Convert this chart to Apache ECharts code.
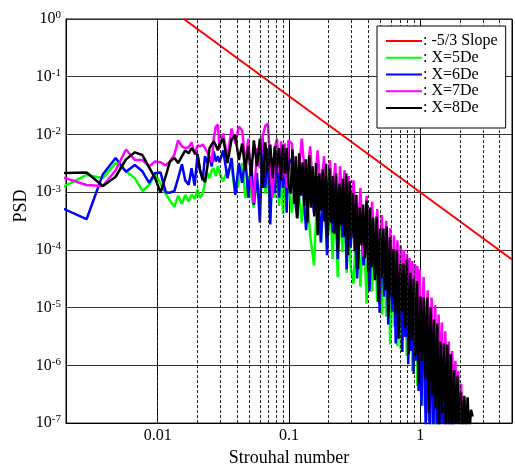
<!DOCTYPE html>
<html>
<head>
<meta charset="utf-8">
<script src="https://cdn.jsdelivr.net/npm/echarts@6/dist/echarts.min.js"></script>
<style>
  html, body { margin: 0; padding: 0; background: #fff; }
  #chart { width: 515px; height: 472px; }
</style>
</head>
<body>
<div id="chart"></div>
<script>
// Strouhal-number axis (shared by the spectra)
const freq = [
  0.0019, 0.00287, 0.00382, 0.00478, 0.00573, 0.00669, 0.00764, 0.0086, 0.00955, 0.0105,
  0.0115, 0.0124, 0.0134, 0.0143, 0.0153, 0.0162, 0.0172, 0.0181, 0.0191, 0.0201,
  0.021, 0.022, 0.0229, 0.0239, 0.0248, 0.0258, 0.0267, 0.0277, 0.0287, 0.0296,
  0.0315, 0.034, 0.0365, 0.039, 0.0415, 0.044, 0.0465, 0.049, 0.0515, 0.054,
  0.057, 0.06, 0.063, 0.066, 0.069, 0.072, 0.075, 0.078, 0.081, 0.084,
  0.087, 0.09, 0.093, 0.096, 0.099,
  0.105, 0.115, 0.125, 0.135, 0.145, 0.155, 0.165, 0.175, 0.185, 0.195,
  0.205, 0.215, 0.225, 0.235, 0.245, 0.255, 0.265, 0.275, 0.285, 0.295,
  0.31, 0.33, 0.35, 0.37, 0.39, 0.41, 0.43, 0.45, 0.47, 0.49,
  0.51, 0.53, 0.55, 0.57, 0.59, 0.61, 0.63, 0.65, 0.67, 0.69,
  0.71, 0.73, 0.75, 0.77, 0.79, 0.81, 0.83, 0.85, 0.87, 0.89,
  0.91, 0.93, 0.95, 0.97, 0.99,
  1.02, 1.06, 1.1, 1.14, 1.18, 1.22, 1.26, 1.3, 1.34, 1.38,
  1.42, 1.46, 1.5, 1.55, 1.6, 1.65, 1.7, 1.75, 1.8, 1.85,
  1.9, 1.95, 2.0, 2.05, 2.1, 2.15, 2.2, 2.25, 2.3, 2.35,
  2.4, 2.45, 2.5
];

// PSD at X = 5De
const psdX5 = [
  1.24e-3, 2e-3, 1.75e-3, 3.2e-3, 2.3e-3, 1.75e-3, 1.05e-3, 1.33e-3, 2.05e-3, 1.4e-3,
  9.4e-4, 7.1e-4, 5.6e-4, 8.7e-4, 6.3e-4, 9e-4, 6.9e-4, 9e-4, 7.6e-4, 1.1e-3,
  8e-4, 9.4e-4, 1.45e-3, 2.15e-3, 1.75e-3, 2.4e-3, 2.6e-3, 1.9e-3, 2.8e-3, 2.15e-3,
  1.55e-3, 2.4e-3, 2.6e-3, 9.8e-4, 1.45e-3, 3.2e-3, 8e-4, 1.9e-3, 9e-4, 5.4e-4,
  1.75e-3, 6.6e-4, 3.2e-3, 9.4e-4, 2.15e-3, 4.4e-4, 2.6e-3, 8e-4, 2.8e-3, 5.8e-4,
  2.15e-3, 4.2e-4, 1.9e-3, 6.6e-4, 2.4e-3,
  4.4e-4, 1.9e-3, 3e-4, 1.6e-3, 1.8e-4, 5.4e-5, 1.28e-3, 1.35e-4, 1.18e-3, 1.03e-4,
  9.8e-4, 6.9e-5, 8.7e-4, 3.4e-5, 7.4e-4, 9.1e-5, 6.6e-4, 4e-5, 5.8e-4, 5e-5,
  2.6e-5, 4.4e-4, 2.3e-5, 3.6e-4, 1.17e-5, 2.9e-4, 1.9e-5, 2.3e-4, 1.27e-5, 1.8e-4,
  7.6e-6, 1.35e-4, 7e-6, 1.03e-4, 2.3e-6, 8.1e-5, 4.7e-6, 6.3e-5, 2.15e-6, 5e-5,
  1.9e-6, 4e-5, 3.1e-6, 3.2e-5, 1.45e-6, 2.5e-5, 2.15e-6, 2e-5, 8e-7, 1.55e-5,
  1.45e-6, 1.2e-5, 4.4e-7, 9.6e-6, 6.6e-7,
  7.6e-6, 2e-7, 5.8e-6, 1.1e-7, 4.4e-6, 6e-8, 3.1e-6, 6e-8, 2.15e-6, 6e-8
];

// PSD at X = 6De
const psdX6 = [
  5.2e-4, 3.4e-4, 2.05e-3, 3.9e-3, 2.25e-3, 2.95e-3, 2.3e-3, 1.45e-3, 2.15e-3, 2.2e-3,
  1e-3, 9.8e-4, 1.05e-3, 1.75e-3, 3.06e-3, 1.6e-3, 1.35e-3, 2.6e-3, 1.3e-3, 4.5e-3,
  2.4e-3, 1.6e-3, 4.2e-3, 3.2e-3, 3.9e-3, 2.8e-3, 5.1e-3, 3.4e-3, 4.2e-3, 3.3e-3,
  5.3e-3, 1.75e-3, 3.9e-3, 9e-4, 3.2e-3, 1.45e-3, 3.9e-3, 8e-4, 3.6e-3, 6.1e-4,
  2.15e-3, 3e-4, 9.2e-3, 1.18e-3, 5.8e-3, 2.75e-4, 3.9e-3, 9.7e-4, 5.3e-3, 8e-4,
  4.2e-3, 1.18e-3, 4.7e-3, 4.4e-4, 3.9e-3,
  3.2e-3, 3.6e-4, 2.6e-3, 2.2e-4, 2.15e-3, 4.4e-4, 1.9e-3, 1.35e-4, 1.75e-3, 8.1e-5,
  1.6e-3, 2e-4, 1.45e-3, 6.9e-5, 1.28e-3, 1.65e-4, 1.18e-3, 4.6e-5, 1.05e-3, 1.1e-4,
  8e-4, 3.2e-5, 5.4e-4, 5.4e-5, 4.4e-4, 1.9e-5, 3.6e-4, 3.4e-5, 2.9e-4, 8.2e-6,
  2.3e-4, 1.55e-5, 1.65e-4, 5.1e-6, 1.2e-4, 8.5e-6, 9.1e-5, 2.4e-6, 7.5e-5, 4.7e-6,
  5.9e-5, 1.7e-6, 4.6e-5, 3.1e-6, 3.7e-5, 1.05e-6, 2.9e-5, 1.77e-6, 2.3e-5, 7.1e-7,
  1.8e-5, 1.2e-6, 1.4e-5, 3.6e-7, 1.1e-5,
  2e-7, 9.6e-6, 9e-8, 7e-6, 6e-8, 5.1e-6, 7.5e-8, 3.4e-6, 6e-8, 2.3e-6,
  6.5e-8, 1.7e-6, 6e-8, 1.2e-6, 6e-8, 8e-7, 6e-8, 4.4e-7, 6e-8
];

// PSD at X = 7De
const psdX7 = [
  1.8e-3, 1.33e-3, 1.28e-3, 2.4e-3, 5.5e-3, 3.6e-3, 3.6e-3, 2.8e-3, 3.4e-3, 3.3e-3,
  2.9e-3, 3.4e-3, 4.5e-3, 7.9e-3, 6.2e-3, 5.8e-3, 6e-3, 7.3e-3, 4.5e-3, 6.5e-3,
  6.2e-3, 6.7e-3, 5.8e-3, 4.9e-3, 4.2e-3, 3.3e-3, 8.5e-3, 1.37e-2, 1.48e-2, 5.8e-3,
  1.04e-2, 3.9e-3, 1.27e-2, 7e-3, 1.37e-2, 1.17e-2, 3.2e-3, 8.5e-3, 1.4e-3, 6.6e-4,
  5.8e-3, 2.6e-3, 9.2e-3, 1.42e-2, 1.54e-2, 3.2e-3, 8e-4, 5.8e-3, 8.5e-3, 2.15e-3,
  7.6e-3, 1.75e-3, 7e-3, 1.18e-3, 7.9e-3,
  7e-3, 8e-4, 8.5e-3, 1.18e-3, 6.2e-3, 5.4e-4, 5.3e-3, 9.7e-4, 4.2e-3, 4.4e-4,
  3.6e-3, 8e-4, 3.2e-3, 3e-4, 2.8e-3, 5.4e-4, 2.4e-3, 2.45e-4, 1.9e-3, 4.4e-4,
  1.6e-3, 1.1e-4, 1.18e-3, 7.5e-5, 8.6e-4, 9.1e-5, 6.9e-4, 5e-5, 5.1e-4, 6.2e-5,
  4e-4, 3.4e-5, 3.2e-4, 4e-5, 2.4e-4, 1.9e-5, 1.8e-4, 2.8e-5, 1.47e-4, 1.27e-5,
  1.2e-4, 1.9e-5, 1e-4, 7e-6, 8.5e-5, 1.04e-5, 7.2e-5, 3.9e-6, 6.4e-5, 7e-6,
  5.7e-5, 2.6e-6, 5.3e-5, 4.7e-6, 4.6e-5,
  1.45e-6, 3.4e-5, 8e-7, 2e-5, 4.4e-7, 1.5e-5, 6.6e-7, 1.1e-5, 3e-7, 7.6e-6,
  3.6e-7, 5.5e-6, 2e-7, 3.9e-6, 3e-7, 2.6e-6, 1.65e-7, 1.77e-6, 2e-7, 1.2e-6,
  1.4e-7, 8e-7, 1.1e-7, 4.8e-7, 9e-8, 3e-7, 2e-7, 6e-8
];

// PSD at X = 8De, below St = 0.1 (same Strouhal numbers as above)
const psdX8 = [
  2.15e-3, 2.2e-3, 1.28e-3, 1.85e-3, 3.7e-3, 4.9e-3, 4.4e-3, 2.7e-3, 1.75e-3, 9.8e-4,
  1.9e-3, 3.4e-3, 3.9e-3, 3.2e-3, 4.2e-3, 5.3e-3, 4.7e-3, 5.8e-3, 4.9e-3, 4.4e-3,
  2.4e-3, 1.75e-3, 1.5e-3, 2.8e-3, 5.8e-3, 6.7e-3, 7.6e-3, 6.5e-3, 5.3e-3, 6.7e-3,
  8.5e-3, 3.2e-3, 8.2e-3, 9.6e-3, 3.6e-3, 7e-3, 2.4e-3, 6.2e-3, 1.9e-3, 7.9e-3,
  2.8e-3, 8.5e-3, 1.18e-3, 7.3e-3, 2.15e-3, 6.7e-3, 1.75e-3, 6.2e-3, 2.6e-3, 5.8e-3,
  1.6e-3, 6.7e-3, 2.1e-3, 5.8e-3, 1.4e-3
];

// X = 8De above St = 0.1, on a finer Strouhal-number grid
const freqX8Hi = [
  0.103, 0.1061, 0.1093, 0.1126, 0.1159, 0.1194, 0.123, 0.1267, 0.1305, 0.1344,
  0.1384, 0.1426, 0.1469, 0.1513, 0.1558, 0.1605, 0.1653, 0.1702, 0.1754, 0.1806,
  0.186, 0.1916, 0.1974, 0.2033, 0.2094, 0.2157, 0.2221, 0.2288, 0.2357, 0.2427,
  0.25, 0.2575, 0.2652, 0.2732, 0.2814, 0.2898, 0.2985, 0.3075, 0.3167, 0.3262,
  0.336, 0.3461, 0.3565, 0.3672, 0.3782, 0.3895, 0.4012, 0.4132, 0.4256, 0.4384,
  0.4515, 0.4651, 0.479, 0.4934, 0.5082, 0.5235, 0.5392, 0.5553, 0.572, 0.5892,
  0.6068, 0.625, 0.6438, 0.6631, 0.683, 0.7035, 0.7246, 0.7463, 0.7687, 0.7918,
  0.8155, 0.84, 0.8652, 0.8912, 0.9179, 0.9454, 0.9738, 1.003, 1.033, 1.064,
  1.096, 1.129, 1.163, 1.198, 1.234, 1.271, 1.309, 1.348, 1.388, 1.43,
  1.473, 1.517, 1.563, 1.61, 1.658, 1.708, 1.759, 1.812, 1.866, 1.922,
  1.98, 2.039, 2.1, 2.163, 2.228, 2.295, 2.364, 2.435, 2.508
];
const psdX8Hi = [
  9.4e-4, 5.5e-3, 6.3e-4, 4.2e-3, 3.5e-4, 4.7e-3, 8.7e-4, 3.3e-3, 5.8e-4, 3.7e-3,
  3e-4, 4.4e-3, 5.4e-4, 2.8e-3, 3.8e-4, 3.2e-3, 1.8e-4, 2.1e-3, 4.8e-4, 2.5e-3,
  3.1e-4, 3.1e-3, 1.6e-4, 2.6e-3, 3e-4, 1.9e-3, 1.9e-4, 2.1e-3, 9.1e-5, 1.4e-3,
  2.65e-4, 1.7e-3, 1.7e-4, 2.1e-3, 8.1e-5, 1.56e-3, 1.6e-4, 9.8e-4, 9.5e-5, 9e-4,
  4.7e-5, 5.4e-4, 1.2e-4, 6.1e-4, 7.2e-5, 7.1e-4, 4.1e-5, 5.4e-4, 5e-5, 3.6e-4,
  3e-5, 3.8e-4, 1.27e-5, 2.35e-4, 3.3e-5, 2.35e-4, 2e-5, 2.55e-4, 7e-6, 1.65e-4,
  1.5e-5, 1.03e-4, 8.2e-6, 9.9e-5, 2.9e-6, 5.7e-5, 8.5e-6, 5.9e-5, 4.5e-6, 6.9e-5,
  1.56e-6, 4e-5, 2.7e-6, 3.2e-5, 1.45e-6, 2.9e-5, 5e-7, 1.55e-5, 1.2e-6, 1.5e-5,
  5.8e-7, 1.5e-5, 1.5e-7, 1e-5, 3e-7, 6.2e-6, 1.8e-7, 5.3e-6, 6.2e-8, 2.6e-6,
  1.5e-7, 2.4e-6, 8.8e-8, 2.3e-6, 6e-8, 1.56e-6, 6e-8, 8.3e-7, 6e-8, 6.6e-7,
  6e-8, 3.4e-7, 6e-8, 2.9e-7, 6e-8, 2.8e-7, 6e-8, 1.7e-7, 1.3e-7
];

// Reference line of slope -5/3 (end points)
const slopeX = [0.0158, 5];
const slopeY = [1, 6.84e-5];

// Tick labels and dashed minor grid positions
const xTickLabels = { '-2': '0.01', '-1': '0.1', '0': '1' };
const minorGridX = [
  0.003, 0.004, 0.005, 0.006, 0.007, 0.008, 0.009,
  0.02, 0.03, 0.04, 0.05, 0.06, 0.07, 0.08, 0.09,
  0.2, 0.3, 0.4, 0.5, 0.6, 0.7, 0.8, 0.9,
  2, 3, 4
];

const seriesNames = ['-5/3 Slope', 'X=5De', 'X=6De', 'X=7De', 'X=8De'];
const seriesColors = ['#ff0000', '#00ff00', '#0000ff', '#ff00ff', '#000000'];

const FONT = '"Liberation Serif", "Times New Roman", serif';

function pairs(xs, ys) {
  const out = [];
  for (let i = 0; i < xs.length; i++) {
    if (ys[i] != null) out.push([xs[i], ys[i]]);
  }
  return out;
}

const lineData = [
  pairs(slopeX, slopeY),
  pairs(freq, psdX5),
  pairs(freq, psdX6),
  pairs(freq, psdX7),
  pairs(freq, psdX8).concat(pairs(freqX8Hi, psdX8Hi))
];

const series = [{
  // dashed minor grid for the frequency axis
  type: 'line',
  data: [],
  silent: true,
  z: 1,
  markLine: {
    silent: true,
    symbol: ['none', 'none'],
    label: { show: false },
    animation: false,
    lineStyle: { color: '#222', width: 1, type: [3, 2] },
    data: minorGridX.map(v => ({ xAxis: v }))
  }
}];

seriesNames.forEach((name, k) => {
  series.push({
    name: name,
    type: 'line',
    data: lineData[k],
    symbol: 'none',
    showSymbol: false,
    clip: true,
    z: 2,
    color: seriesColors[k],
    lineStyle: { color: seriesColors[k], width: k === 0 ? 2 : 2.5 }
  });
});

const chart = echarts.init(document.getElementById('chart'), null, { renderer: 'canvas' });
chart.setOption({
  animation: false,
  backgroundColor: '#fff',
  textStyle: { fontFamily: FONT },
  grid: {
    left: 66, right: 1, top: 19, bottom: 44,
    show: true, borderColor: '#000', borderWidth: 1, backgroundColor: 'transparent'
  },
  legend: {
    data: seriesNames,
    orient: 'vertical',
    left: 377,
    top: 26,
    padding: [7, 8, 12, 9],
    itemGap: 0.75,
    itemWidth: 36,
    itemHeight: 2,
    icon: 'rect',
    backgroundColor: '#fff',
    borderColor: '#000',
    borderWidth: 1,
    borderRadius: 0,
    z: 10,
    formatter: n => ': ' + n,
    textStyle: { fontFamily: FONT, fontSize: 16, lineHeight: 16, color: '#000', padding: [0, 0, 0, -4] }
  },
  xAxis: {
    type: 'log',
    logBase: 10,
    min: 0.002,
    max: 5,
    name: 'Strouhal number',
    nameLocation: 'middle',
    nameGap: 25,
    nameTextStyle: { fontFamily: FONT, fontSize: 18, color: '#000' },
    axisLine: { show: true, onZero: false, lineStyle: { color: '#000', width: 1 } },
    axisTick: { show: false },
    axisLabel: {
      color: '#000', fontFamily: FONT, fontSize: 16, margin: 5,
      formatter: v => {
        const e = Math.log10(v);
        const r = Math.round(e);
        if (Math.abs(e - r) > 1e-6) return '';
        return xTickLabels[String(r)] || '';
      }
    },
    splitLine: { show: true, lineStyle: { color: '#000', width: 1 } }
  },
  yAxis: {
    type: 'log',
    logBase: 10,
    min: 1e-7,
    max: 1,
    name: 'PSD',
    nameLocation: 'middle',
    nameGap: 36,
    nameMoveOverlap: false,
    nameTextStyle: { fontFamily: FONT, fontSize: 18, color: '#000', padding: [0, 0, 0, 30] },
    axisLine: { show: true, onZero: false, lineStyle: { color: '#000', width: 1 } },
    axisTick: { show: false },
    axisLabel: {
      color: '#000', fontFamily: FONT, fontSize: 16, margin: 5,
      formatter: v => '10{s|' + Math.round(Math.log10(v)) + '}',
      rich: {
        s: { fontFamily: FONT, fontSize: 11, color: '#000', verticalAlign: 'top', padding: [0, 0, 7, 0] }
      }
    },
    splitLine: { show: true, lineStyle: { color: '#333', width: 1 } }
  },
  series: series
});
</script>
</body>
</html>
